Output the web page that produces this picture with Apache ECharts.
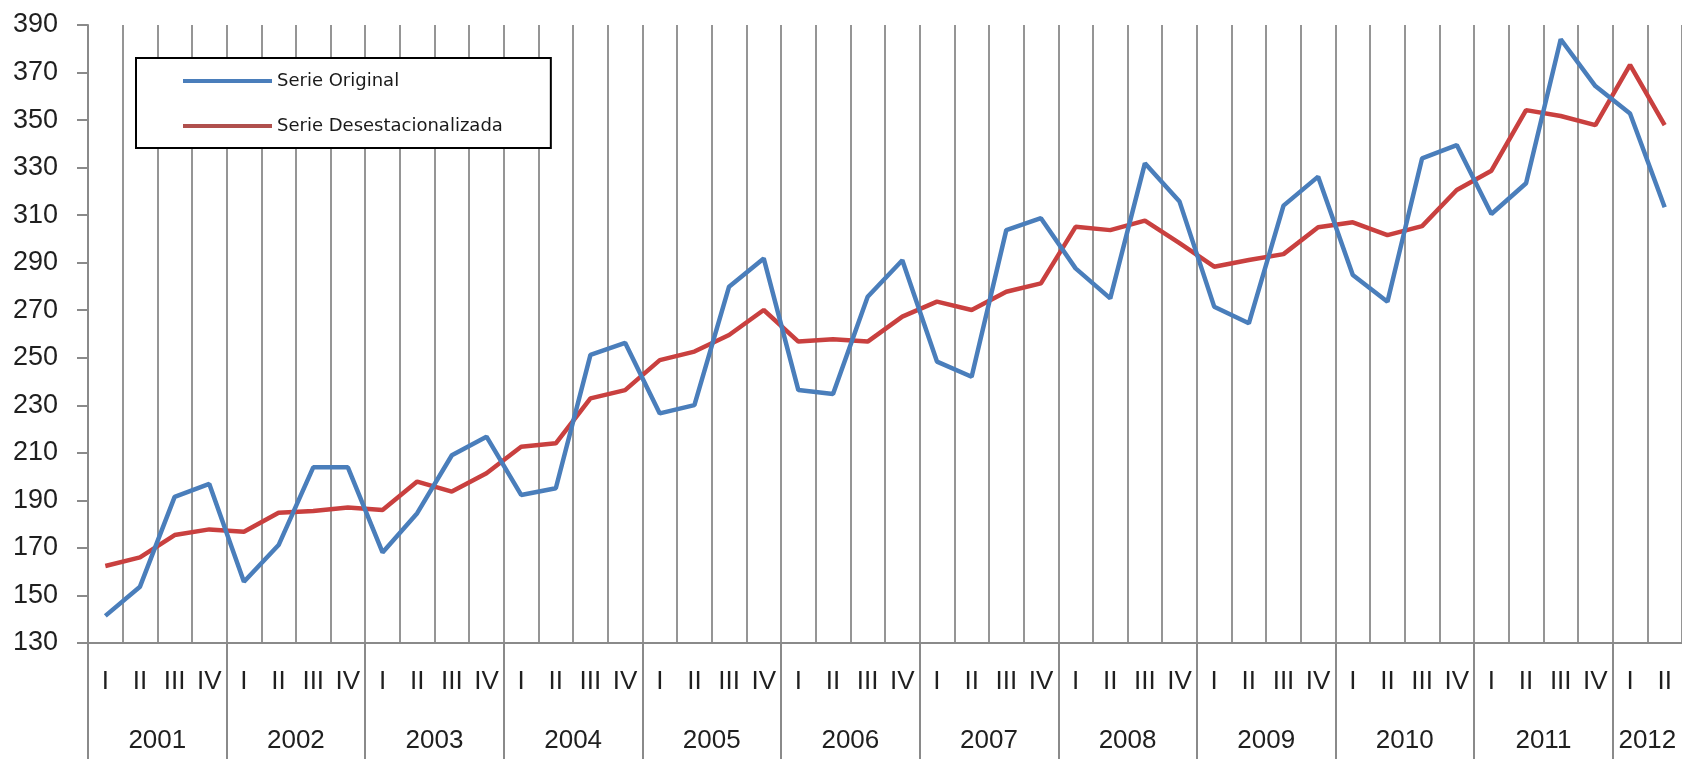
<!DOCTYPE html>
<html>
<head>
<meta charset="utf-8">
<script src="https://cdn.jsdelivr.net/npm/echarts@6/dist/echarts.min.js"></script>
<style>
  html, body { margin: 0; padding: 0; background: #ffffff; }
  #chart { width: 1682px; height: 759px; }
</style>
</head>
<body>
<div id="chart"></div>
<script>
// Quarter labels and years
const quarters = ['I', 'II', 'III', 'IV'];
const years = ['2001','2002','2003','2004','2005','2006','2007','2008','2009','2010','2011','2012'];
const quartersPerYear = [4,4,4,4,4,4,4,4,4,4,4,2];

// Series values
const serieOriginal = [
  141.4, 153.7, 191.5, 196.9,
  155.8, 171.2, 203.9, 203.9,
  168.1, 184.6, 209.0, 216.8,
  192.3, 195.1, 251.2, 256.3,
  226.6, 230.1, 279.9, 291.8,
  236.4, 234.8, 275.7, 291.0,
  248.4, 242.0, 303.7, 308.7,
  287.6, 275.0, 331.8, 315.7,
  271.5, 264.5, 314.0, 326.2,
  284.8, 273.6, 333.9, 339.5,
  310.5, 323.4, 384.0, 364.3,
  352.8, 313.3
];
const serieDesestacionalizada = [
  162.4, 166.0, 175.4, 177.8,
  176.8, 184.8, 185.5, 187.0,
  186.0, 197.9, 193.7, 201.4,
  212.6, 214.0, 232.9, 236.4,
  249.0, 252.6, 259.6, 270.1,
  256.8, 257.8, 256.8, 267.3,
  273.6, 270.1, 277.8, 281.3,
  305.1, 303.7, 307.7, 298.2,
  288.3, 291.1, 293.6, 304.9,
  307.0, 301.6, 305.4, 320.6,
  328.7, 354.2, 351.7, 347.9,
  373.2, 347.9
];

// y axis ticks
const yMin = 130, yMax = 390, yStep = 20;

// Build category list and year positions
const categories = [];
const yearBounds = [0];
const yearCenters = [];
let pos = 0;
years.forEach((y, i) => {
  const n = quartersPerYear[i];
  for (let q = 0; q < n; q++) categories.push(quarters[q]);
  yearCenters.push(pos + n / 2);
  pos += n;
  if (i < years.length - 1) yearBounds.push(pos);
});

const labelFont = 'Liberation Sans, Arial, sans-serif';
const gridGray = '#8a8a8a';
const textColor = '#1f1f1f';
const blue = '#4a7ebb';
const red = '#c9403f';

const chart = echarts.init(document.getElementById('chart'), null, { renderer: 'canvas' });
chart.setOption({
  animation: false,
  backgroundColor: '#ffffff',
  grid: { left: 88, right: 0, top: 25, bottom: 116, containLabel: false },
  legend: {
    orient: 'vertical',
    left: 136,
    top: 58,
    padding: [14, 48, 13, 47],
    itemWidth: 89,
    itemHeight: 4,
    itemGap: 27,
    icon: 'rect',
    borderColor: '#000000',
    borderWidth: 2,
    backgroundColor: '#ffffff',
    textStyle: { fontFamily: 'DejaVu Sans, sans-serif', fontSize: 18, color: '#1a1a1a', lineHeight: 18 },
    data: [
      { name: 'Serie Original', itemStyle: { color: blue } },
      { name: 'Serie Desestacionalizada', itemStyle: { color: '#b0504d' } }
    ]
  },
  xAxis: [
    {
      type: 'category',
      data: categories,
      boundaryGap: true,
      position: 'bottom',
      axisLine: { show: true, lineStyle: { color: gridGray, width: 2 } },
      axisTick: { show: false },
      axisLabel: {
        interval: 0,
        margin: 26,
        fontFamily: labelFont,
        fontSize: 26,
        color: textColor
      },
      splitLine: { show: true, interval: 0, lineStyle: { color: gridGray, width: 1.8 } }
    },
    {
      type: 'value',
      min: 0,
      max: categories.length,
      position: 'bottom',
      axisLine: { show: false },
      axisTick: {
        show: true,
        customValues: yearBounds,
        length: 116,
        lineStyle: { color: gridGray, width: 2 }
      },
      axisLabel: {
        show: true,
        customValues: yearCenters,
        margin: 85,
        fontFamily: labelFont,
        fontSize: 26,
        color: textColor,
        formatter: function (v) {
          const idx = yearCenters.findIndex(c => Math.abs(c - v) < 1e-6);
          return idx >= 0 ? years[idx] : '';
        }
      },
      splitLine: { show: false }
    }
  ],
  yAxis: {
    type: 'value',
    min: yMin,
    max: yMax,
    interval: yStep,
    axisLine: { show: true, lineStyle: { color: gridGray, width: 2 } },
    axisTick: { show: true, length: 11, lineStyle: { color: gridGray, width: 2 } },
    axisLabel: {
      margin: 30,
      fontFamily: labelFont,
      fontSize: 27,
      color: textColor
    },
    splitLine: { show: false }
  },
  series: [
    {
      name: 'Serie Original',
      type: 'line',
      xAxisIndex: 0,
      data: serieOriginal,
      symbol: 'none',
      color: blue,
      lineStyle: { color: blue, width: 4.5 },
      z: 3
    },
    {
      name: 'Serie Desestacionalizada',
      type: 'line',
      xAxisIndex: 0,
      data: serieDesestacionalizada,
      symbol: 'none',
      color: red,
      lineStyle: { color: red, width: 4.5 },
      z: 2
    }
  ]
});
</script>
</body>
</html>
